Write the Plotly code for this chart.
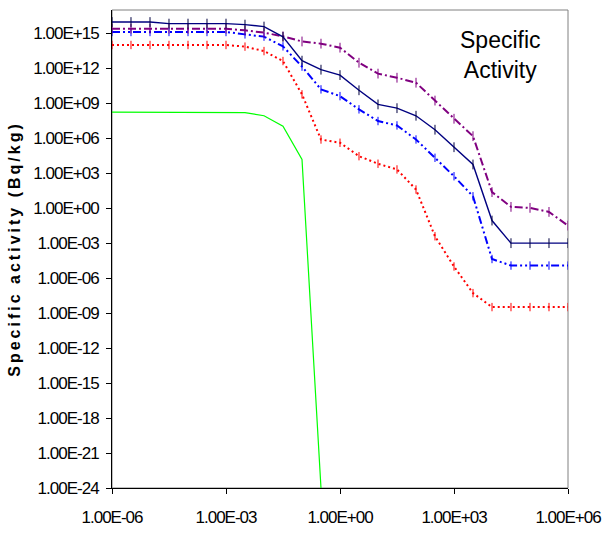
import plotly.graph_objects as go

# time points (half-decade steps from 1e-6 to 1e6)
x_vals = [1e-6, 3.16e-6, 1e-5, 3.16e-5, 1e-4, 3.16e-4, 1e-3, 3.16e-3, 1e-2, 3.16e-2,
          1e-1, 3.16e-1, 1e0, 3.16e0, 1e1, 3.16e1, 1e2, 3.16e2, 1e3, 3.16e3,
          1e4, 3.16e4, 1e5, 3.16e5, 1e6]

navy_vals = [9.3e15, 9.3e15, 9.3e15, 6.8e15, 6.8e15, 6.8e15, 6.8e15, 5.6e15, 3.8e15, 5.0e14,
             4.5e12, 7.6e11, 2.6e11, 1.3e10, 8.0e8, 3.8e8, 8.5e7, 5.4e6, 1.7e5, 5.6e3,
             8.7e-2, 1.0e-3, 1.0e-3, 1.0e-3, 1.0e-3]

purple_vals = [2.5e15, 2.5e15, 2.5e15, 2.5e15, 2.5e15, 2.5e15, 2.5e15, 1.8e15, 1.15e15, 5.5e14,
               2.0e14, 1.3e14, 5.9e13, 3.0e12, 3.5e11, 1.55e11, 5.8e10, 1.7e9, 4.7e7, 1.5e6,
               24.0, 1.3, 1.07, 0.48, 0.032]

blue_vals = [1.3e15, 1.3e15, 1.3e15, 1.3e15, 1.3e15, 1.3e15, 1.3e15, 8.1e14, 5.2e14, 7.6e13,
             1.4e12, 1.55e10, 4.1e9, 3.0e8, 3.0e7, 1.26e7, 7.8e5, 2.1e4, 550.0, 10.5,
             4.4e-5, 1.2e-5, 1.2e-5, 1.2e-5, 1.2e-5]

red_vals = [1.0e14, 1.0e14, 1.0e14, 1.0e14, 1.0e14, 1.0e14, 1.0e14, 7.2e13, 3.0e13, 4.2e12,
            5.8e9, 7.8e5, 4.1e5, 2.9e4, 6.5e3, 2.1e3, 40.0, 3.9e-3, 1.0e-5, 5.2e-8,
            3.3e-9, 3.3e-9, 3.3e-9, 3.3e-9, 3.3e-9]

green_vals = [1.74e8, 1.74e8, 1.74e8, 1.74e8, 1.74e8, 1.74e8, 1.74e8, 1.55e8, 8.5e7, 1.1e7,
              1.5e4, 1.0e-24, None, None, None, None, None, None, None, None,
              None, None, None, None, None]

y_tickvals = [1e15, 1e12, 1e9, 1e6, 1e3, 1e0, 1e-3, 1e-6, 1e-9, 1e-12, 1e-15, 1e-18, 1e-21, 1e-24]
y_ticktext = ["1.00E+15", "1.00E+12", "1.00E+09", "1.00E+06", "1.00E+03", "1.00E+00",
              "1.00E-03", "1.00E-06", "1.00E-09", "1.00E-12", "1.00E-15", "1.00E-18",
              "1.00E-21", "1.00E-24"]
x_tickvals = [1e-6, 1e-3, 1e0, 1e3, 1e6]
x_ticktext = ["1.00E-06", "1.00E-03", "1.00E+00", "1.00E+03", "1.00E+06"]


def condensed(labels):
    return ["<span style=\"letter-spacing:-1px\">" + t + "</span>" for t in labels]


fig = go.Figure()

fig.add_trace(go.Scatter(x=x_vals, y=green_vals, mode="lines",
                         line=dict(color="#00FF00", width=1.2), connectgaps=False))
fig.add_trace(go.Scatter(x=x_vals, y=red_vals, mode="lines+markers",
                         line=dict(color="#FF0000", width=2, dash="2px,3px"),
                         marker=dict(symbol="line-ns", size=6, line=dict(color="#FF0000", width=1))))
fig.add_trace(go.Scatter(x=x_vals, y=blue_vals, mode="lines+markers",
                         line=dict(color="#0000FF", width=2, dash="8px,3px,2px,3px,2px,3px"),
                         marker=dict(symbol="line-ns", size=6, line=dict(color="#0000FF", width=1))))
fig.add_trace(go.Scatter(x=x_vals, y=purple_vals, mode="lines+markers",
                         line=dict(color="#800080", width=2, dash="8px,3px,2px,3px"),
                         marker=dict(symbol="line-ns", size=7, line=dict(color="#800080", width=1))))
fig.add_trace(go.Scatter(x=x_vals, y=navy_vals, mode="lines+markers",
                         line=dict(color="#000080", width=1.4),
                         marker=dict(symbol="line-ns", size=7, line=dict(color="#000040", width=1))))

fig.add_shape(type="rect", xref="paper", yref="paper", x0=0, y0=0, x1=1, y1=1,
              line=dict(color="#808080", width=1), layer="below")

fig.add_annotation(x=0.851, y=0.906, xref="paper", yref="paper",
                   xanchor="center", yanchor="middle",
                   text="Specific<br>Activity", showarrow=False,
                   font=dict(family="Liberation Sans, Arial", size=23, color="black"),
                   align="center")

tick_font = dict(family="Liberation Sans, Arial", size=17, color="black")

fig.update_xaxes(type="log", range=[-6, 6], tickvals=x_tickvals, ticktext=condensed(x_ticktext),
                 showgrid=False, zeroline=False, showline=True, linecolor="black", linewidth=1,
                 ticks="outside", ticklen=5, tickcolor="black", tickfont=tick_font,
                 ticklabelstandoff=9)
fig.update_yaxes(type="log", range=[-24, 17], tickvals=y_tickvals, ticktext=condensed(y_ticktext),
                 showgrid=False, zeroline=False, showline=True, linecolor="black", linewidth=1,
                 ticks="outside", ticklen=5, tickcolor="black", tickfont=tick_font,
                 ticklabelstandoff=4,
                 title=dict(text="<span style=\"letter-spacing:3px\"><b>Specific activity (Bq/kg)</b></span>",
                            font=dict(family="Liberation Sans, Arial", size=16, color="black"),
                            standoff=8))

fig.update_layout(width=605, height=533, showlegend=False,
                  paper_bgcolor="white", plot_bgcolor="white",
                  margin=dict(l=112, r=37, t=10, b=45, autoexpand=False))

fig.write_html("out.html", config={"displayModeBar": False},
               post_script="document.body.style.margin='0';document.body.style.padding='0';")
